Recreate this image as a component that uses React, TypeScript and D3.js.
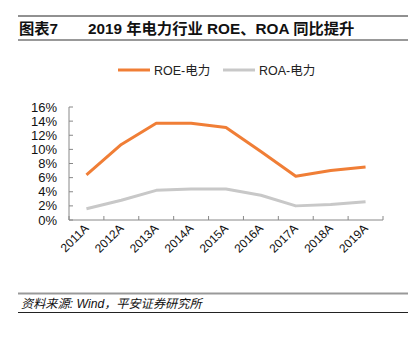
import React from "react";
import * as d3 from "d3";

const categories = ["2011A", "2012A", "2013A", "2014A", "2015A", "2016A", "2017A", "2018A", "2019A"];
const roe = [6.4, 10.7, 13.7, 13.7, 13.1, 9.7, 6.2, 7.0, 7.5];
const roa = [1.6, 2.8, 4.2, 4.4, 4.4, 3.5, 2.0, 2.2, 2.6];
const yTicks = [0, 2, 4, 6, 8, 10, 12, 14, 16];
const seriesNames = ["ROE-电力", "ROA-电力"];
const colors = ["#F07E36", "#C8C8C8"];

const FONT = "'Liberation Sans', Arial, Helvetica, sans-serif";
const CJK = "'Liberation Sans', 'Noto Sans CJK SC', sans-serif";

export default function App() {
  const W = 415, H = 341;
  const x = d3.scaleBand<string>().domain(categories).range([69, 383]);
  const y = d3.scaleLinear().domain([0, 16]).range([220, 107]);
  const line = d3.line<number>()
    .x((_, i) => (x(categories[i]) as number) + x.bandwidth() / 2)
    .y((d) => y(d));
  const series = [roe, roa];
  const bounds = [...categories.map((c) => x(c) as number), 383];

  return (
    <svg width={W} height={H} style={{ position: "absolute", left: 0, top: 0, background: "#fff" }}>
      {/* header */}
      <line x1={18} x2={408} y1={16} y2={16} stroke="#222" strokeWidth={1} />
      <text x={19} y={33.5} fontFamily={CJK} fontWeight="bold" fontSize={15.3} fill="#111">图表7</text>
      <text x={88} y={33.5} fontFamily={CJK} fontWeight="bold" fontSize={15.3} fill="#111">2019 年电力行业 ROE、ROA 同比提升</text>
      <line x1={18} x2={408} y1={40} y2={40} stroke="#999" strokeWidth={2} />

      {/* legend */}
      {seriesNames.map((n, i) => {
        const lx = i === 0 ? 118 : 223;
        return (
          <g key={n}>
            <line x1={lx} x2={lx + 32} y1={70} y2={70} stroke={colors[i]} strokeWidth={3} />
            <text x={lx + 36} y={74.5} fontFamily={CJK} fontSize={12.5} fill="#222">{n}</text>
          </g>
        );
      })}

      {/* y axis */}
      <line x1={69} x2={69} y1={y(16)} y2={y(0)} stroke="#888" strokeWidth={1} />
      {yTicks.map((t) => (
        <g key={t}>
          <line x1={69} x2={73} y1={y(t)} y2={y(t)} stroke="#888" strokeWidth={1} />
          <text x={57} y={y(t) + 4.5} textAnchor="end" fontFamily={FONT} fontSize={13} fill="#111">{t}%</text>
        </g>
      ))}

      {/* x axis */}
      <line x1={69} x2={383} y1={220} y2={220} stroke="#888" strokeWidth={1} />
      {bounds.map((b, i) => (
        <line key={i} x1={b} x2={b} y1={216} y2={220} stroke="#888" strokeWidth={1} />
      ))}
      {categories.map((c) => {
        const cx = (x(c) as number) + x.bandwidth() / 2;
        return (
          <text key={c} transform={`translate(${cx + 3},${229}) rotate(-45)`} textAnchor="end"
            fontFamily={FONT} fontSize={12} fill="#111">{c}</text>
        );
      })}

      {/* lines */}
      {series.map((s, i) => (
        <path key={i} d={line(s) || ""} fill="none" stroke={colors[i]} strokeWidth={3} strokeLinejoin="round" />
      ))}

      {/* footer */}
      <line x1={18} x2={408} y1={293.5} y2={293.5} stroke="#999" strokeWidth={2} />
      <text x={21} y={308} fontFamily={CJK} fontStyle="italic" fontSize={12.2} fill="#111">资料来源: Wind，平安证券研究所</text>
      <line x1={18} x2={408} y1={312.5} y2={312.5} stroke="#222" strokeWidth={1} />
    </svg>
  );
}
